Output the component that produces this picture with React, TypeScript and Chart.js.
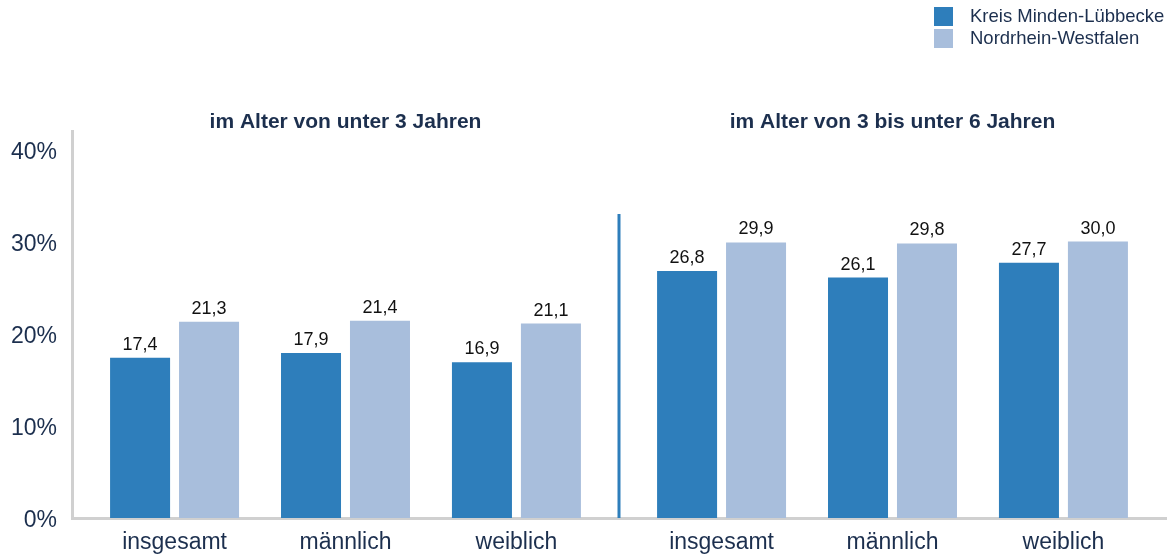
import React, { useEffect, useRef } from "react";
import { Chart, registerables } from "chart.js";

Chart.register(...registerables);

const categories = ["insgesamt", "männlich", "weiblich", "insgesamt", "männlich", "weiblich"];
const groupTitles = ["im Alter von unter 3 Jahren", "im Alter von 3 bis unter 6 Jahren"];
const seriesNames = ["Kreis Minden-Lübbecke", "Nordrhein-Westfalen"];
const kreisValues = [17.4, 17.9, 16.9, 26.8, 26.1, 27.7];
const nrwValues = [21.3, 21.4, 21.1, 29.9, 29.8, 30.0];
const yTicks = [0, 10, 20, 30, 40];

const COLORS = ["#2e7ebb", "#a8bedc"];
const NAVY = "#1c2f4e";
const FONT = "'Liberation Sans', Arial, sans-serif";
const GROUP_GAP = 0.2;
const DIVIDER_TOP = 33;

const xPos = (i: number) => i + (i >= 3 ? GROUP_GAP : 0);

const overlayPlugin = {
  id: "overlay",
  afterDatasetsDraw(chart: any) {
    const ctx = chart.ctx;
    const xs = chart.scales.x;
    const ys = chart.scales.y;
    ctx.save();
    // value labels
    ctx.font = `18px ${FONT}`;
    ctx.fillStyle = "#111111";
    ctx.textAlign = "center";
    ctx.textBaseline = "alphabetic";
    chart.data.datasets.forEach((ds: any, di: number) => {
      const meta = chart.getDatasetMeta(di);
      meta.data.forEach((bar: any, i: number) => {
        const v = ds.data[i].y;
        ctx.fillText(v.toFixed(1).replace(".", ","), bar.x, bar.y - 8);
      });
    });
    // divider
    const dx = xs.getPixelForValue((xPos(2) + xPos(3)) / 2);
    ctx.strokeStyle = COLORS[0];
    ctx.lineWidth = 3;
    ctx.beginPath();
    ctx.moveTo(dx, ys.getPixelForValue(DIVIDER_TOP));
    ctx.lineTo(dx, ys.getPixelForValue(0));
    ctx.stroke();
    // group titles
    ctx.font = `bold 21px ${FONT}`;
    ctx.fillStyle = NAVY;
    ctx.fillText(groupTitles[0], xs.getPixelForValue(xPos(1)), 128);
    ctx.fillText(groupTitles[1], xs.getPixelForValue(xPos(4)), 128);
    // legend
    ctx.font = `18.5px ${FONT}`;
    ctx.textAlign = "left";
    ctx.textBaseline = "middle";
    const lx = chart.width - 239;
    seriesNames.forEach((name, k) => {
      const y = 7 + k * 22;
      ctx.fillStyle = COLORS[k];
      ctx.fillRect(lx, y, 19, 19);
      ctx.fillStyle = NAVY;
      ctx.fillText(name, lx + 36, y + 10);
    });
    ctx.restore();
  },
};

export default function App() {
  const ref = useRef<HTMLCanvasElement>(null);
  useEffect(() => {
    if (!ref.current) return;
    const series = [kreisValues, nrwValues];
    const chart = new Chart(ref.current, {
      type: "bar",
      data: {
        datasets: series.map((vals, k) => ({
          label: seriesNames[k],
          data: vals.map((v, i) => ({ x: xPos(i), y: v })),
          backgroundColor: COLORS[k],
          categoryPercentage: 0.807,
          barPercentage: 0.87,
        })),
      },
      options: {
        animation: false,
        responsive: false,
        layout: { padding: { top: 131, right: 7, left: 0, bottom: 0 } },
        plugins: { legend: { display: false }, tooltip: { enabled: false } },
        scales: {
          x: {
            type: "linear",
            min: -0.6,
            max: 5.8,
            offset: false,
            grid: { display: false, drawTicks: false },
            border: { display: true, color: "#d0d0d0", width: 3 },
            afterBuildTicks: (scale: any) => {
              scale.ticks = categories.map((_, i) => ({ value: xPos(i) }));
            },
            afterFit: (scale: any) => {
              scale.height = 37;
            },
            ticks: {
              autoSkip: false,
              maxRotation: 0,
              padding: 11,
              color: NAVY,
              font: { family: FONT, size: 23 },
              callback: (_v: any, i: number) => categories[i],
            },
          },
          y: {
            min: 0,
            max: 42,
            grid: { display: false, drawTicks: false },
            border: { display: true, color: "#d0d0d0", width: 3 },
            afterBuildTicks: (scale: any) => {
              scale.ticks = yTicks.map((v) => ({ value: v }));
            },
            afterFit: (scale: any) => {
              scale.width = 72;
            },
            ticks: {
              padding: 15,
              labelOffset: 3,
              color: NAVY,
              font: { family: FONT, size: 23 },
              callback: (v: any) => `${v}%`,
            },
          },
        },
      },
      plugins: [overlayPlugin],
    } as any);
    return () => chart.destroy();
  }, []);
  return (
    <div style={{ position: "absolute", left: 0, top: 0, width: 1173, height: 555, background: "#fff" }}>
      <canvas ref={ref} width={1173} height={555} style={{ display: "block" }} />
    </div>
  );
}
